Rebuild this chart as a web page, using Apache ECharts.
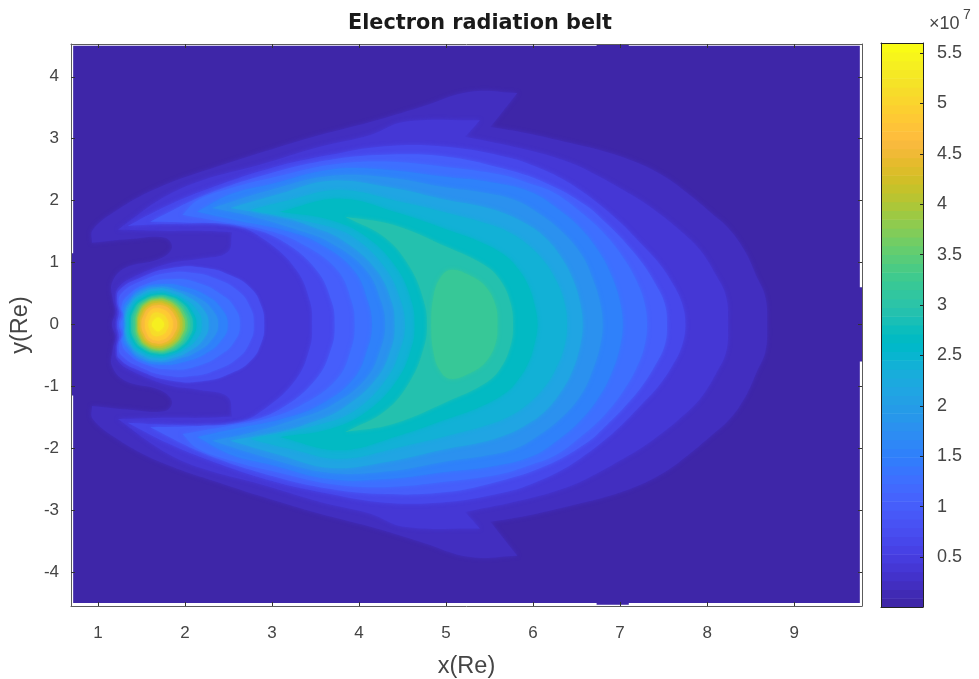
<!DOCTYPE html>
<html><head><meta charset="utf-8">
<style>html,body{margin:0;padding:0;background:#fff}#c{width:979px;height:679px}</style>
<script src="https://cdn.jsdelivr.net/npm/echarts@6/dist/echarts.min.js"></script>
</head><body><div id="c"></div>
<script>
// Axis ticks
const xTicks = [1,2,3,4,5,6,7,8,9];
const yTicks = [-4,-3,-2,-1,0,1,2,3,4];
const cbarTicks = [0.5,1,1.5,2,2.5,3,3.5,4,4.5,5,5.5];
const xRange = [0.69, 9.78];
const yRange = [-4.55, 4.53];
const cbarRange = [0.004, 5.6];

// MATLAB parula colormap
const parula = [[.2422,.1504,.6603],[.2504,.165,.7076],[.2578,.1818,.7511],[.2647,.1978,.7952],[.2706,.2147,.8364],[.2751,.2342,.871],[.2783,.2559,.8991],[.2803,.2782,.9221],[.2813,.3006,.9414],[.281,.3228,.9579],[.2795,.3447,.9717],[.276,.3667,.9829],[.2699,.3892,.9906],[.2602,.4123,.9952],[.244,.4358,.9988],[.2206,.4603,.9973],[.1963,.4847,.9892],[.1834,.5074,.9798],[.1786,.5289,.9682],[.1764,.5499,.952],[.1687,.5703,.9359],[.154,.5902,.9218],[.146,.6091,.9079],[.138,.6276,.8973],[.1248,.6459,.8883],[.1113,.6635,.8763],[.0952,.6798,.8598],[.0689,.6948,.8394],[.0297,.7082,.8163],[.0036,.7203,.7917],[.0067,.7312,.766],[.0433,.7411,.7394],[.0964,.75,.712],[.1408,.7584,.6842],[.1717,.767,.6554],[.1938,.7758,.6251],[.2161,.7843,.5923],[.247,.7918,.5567],[.2906,.7973,.5188],[.3406,.8008,.4789],[.3909,.8029,.4354],[.4456,.8024,.3909],[.5044,.7993,.348],[.5616,.7942,.3045],[.6174,.7876,.2612],[.672,.7793,.2227],[.7242,.7698,.191],[.7738,.7598,.1646],[.8203,.7498,.1535],[.8634,.7406,.1596],[.9035,.733,.1774],[.9393,.7288,.21],[.9728,.7298,.2394],[.9956,.7434,.2371],[.997,.7659,.2199],[.9952,.7893,.2028],[.9892,.8136,.1885],[.9786,.8386,.1766],[.9676,.8639,.1643],[.961,.889,.1537],[.9597,.9135,.1423],[.9628,.9373,.1265],[.9691,.9606,.1064],[.9769,.9839,.0805]];

// Contour bands: value (x10^7) and upper half outline [x(Re), y(Re)].
const baseValue = 0.01;
const baseOutline = [[9.78,0],[9.78,.6],[9.755,.6],[9.755,4.5],[7.1,4.5],[7.1,4.53],[6.73,4.53],[6.73,4.5],[.715,4.5],[.715,1.15],[.69,1.15],[.69,0]];

const beltValues = [0.14,0.36,0.66,0.98,1.26,1.54,1.82,2.10,2.38,2.66,2.94,3.22];
const belt1 = [[8.69,0],[8.67,.44],[8.57,.77],[8.44,1.17],[8.26,1.53],[8.03,1.82],[7.8,2.09],[7.52,2.38],[7.2,2.61],[6.83,2.79],[6.43,2.93],[5.93,3.09],[5.51,3.19],[5.51,3.19],[5.82,3.74],[5.82,3.74],[5.28,3.76],[4.7,3.51],[4.13,3.27],[3.55,3.06],[3.09,2.87],[2.46,2.59],[1.71,2.22],[1.22,1.85],[.94,1.53],[.93,1.32],[.93,1.32],[1.37,1.38],[1.77,1.4],[1.85,1.24],[1.71,1.06],[1.31,.91],[1.16,.67],[1.17,.4],[1.2,.2],[1.16,0]];
const belt2 = [[8.24,0],[8.22,.44],[8.1,.8],[7.92,1.2],[7.72,1.48],[7.48,1.76],[7.23,2.01],[7,2.2],[6.77,2.38],[6.43,2.61],[5.93,2.82],[5.22,3.03],[5.22,3.03],[5.39,3.3],[5.39,3.3],[4.51,3.27],[4.13,3.06],[3.55,2.87],[2.86,2.58],[2.2,2.33],[1.74,2.04],[1.23,1.53],[1.23,1.53],[1.8,1.51],[2.23,1.51],[2.54,1.49],[2.54,1.49],[2.49,1.17],[2.17,1.06],[1.8,.98],[1.38,.75],[1.23,.59],[1.2,.4],[1.22,.2],[1.2,0]];
const belt3 = [[7.75,0],[7.71,.35],[7.6,.67],[7.44,1],[7.23,1.32],[7,1.65],[6.77,1.93],[6.54,2.17],[6.31,2.37],[6.03,2.55],[5.74,2.69],[5.01,2.87],[4.3,2.88],[3.67,2.74],[3,2.53],[2.23,2.17],[1.77,1.9],[1.34,1.59],[1.34,1.59],[1.8,1.62],[2.54,1.61],[2.91,1.37],[3.28,.88],[3.44,.35],[3.46,0]];
const belt4 = [[7.54,0],[7.51,.35],[7.4,.67],[7.25,1],[7.06,1.32],[6.85,1.62],[6.6,1.93],[6.14,2.29],[5.62,2.53],[5.01,2.71],[4.3,2.74],[3.67,2.66],[3,2.45],[2.23,2.09],[1.6,1.66],[1.6,1.66],[2.17,1.64],[2.63,1.59],[3.09,1.37],[3.51,.88],[3.69,.35],[3.72,0]];
const belt5 = [[7.31,0],[7.28,.35],[7.2,.67],[7.05,1.05],[6.83,1.45],[6.56,1.8],[6.25,2.12],[5.95,2.28],[5.62,2.42],[5.01,2.54],[4.3,2.63],[3.67,2.58],[3,2.37],[2.57,2.22],[2.15,2.01],[1.97,1.77],[1.97,1.77],[2.49,1.64],[2.89,1.54],[3.32,1.32],[3.75,.88],[3.92,.35],[3.95,0]];
const belt6 = [[7.03,0],[7,.35],[6.92,.72],[6.78,1.12],[6.56,1.53],[6.3,1.85],[5.97,2.14],[5.5,2.3],[5.01,2.38],[4.3,2.5],[3.67,2.5],[3,2.27],[2.54,2.11],[2.14,1.82],[2.14,1.82],[2.63,1.67],[3.09,1.54],[3.53,1.32],[3.94,.88],[4.11,.35],[4.15,0]];
const belt7 = [[6.8,0],[6.77,.35],[6.69,.72],[6.56,1.12],[6.34,1.49],[6.08,1.78],[5.79,2.01],[5.42,2.13],[5.01,2.21],[4.36,2.37],[3.67,2.4],[3.03,2.19],[2.31,1.88],[2.31,1.88],[2.75,1.75],[3.26,1.54],[3.67,1.32],[4.08,.88],[4.26,.35],[4.3,0]];
const belt8 = [[6.57,0],[6.54,.35],[6.46,.72],[6.33,1.07],[6.14,1.4],[5.9,1.64],[5.62,1.82],[5.33,1.93],[5.01,2.01],[4.36,2.21],[3.67,2.32],[3.09,2.11],[2.52,1.88],[2.52,1.88],[3.15,1.72],[3.44,1.59],[3.8,1.37],[4.2,.88],[4.38,.35],[4.41,0]];
const belt9 = [[6.39,0],[6.36,.35],[6.26,.72],[6.12,1.03],[5.91,1.32],[5.72,1.49],[5.51,1.61],[5.01,1.8],[4.47,1.98],[3.78,2.17],[3.21,2.01],[2.75,1.85],[2.75,1.85],[3.55,1.62],[3.95,1.4],[4.32,.88],[4.49,.35],[4.53,0]];
const belt10 = [[6.05,0],[6.01,.35],[5.94,.64],[5.83,.89],[5.68,1.11],[5.38,1.34],[5.01,1.53],[4.47,1.79],[3.78,2.03],[3.09,1.82],[3.09,1.82],[3.67,1.69],[4.1,1.4],[4.45,.88],[4.61,.35],[4.64,0]];
const belt11 = [[5.77,0],[5.74,.35],[5.62,.72],[5.44,.96],[5.01,1.25],[4.39,1.61],[3.84,1.74],[3.84,1.74],[4.3,1.4],[4.59,.91],[4.75,.35],[4.78,0]];
const belt12 = [[5.59,0],[5.57,.3],[5.46,.6],[5.3,.77],[5.05,.88],[4.92,.72],[4.85,.4],[4.83,0]];

const spotValues = [0.70,0.98,1.26,1.54,1.82,2.10,2.38,2.66,2.94,3.22,3.50,3.78,4.06,4.34,4.62,4.90,5.18,5.46];
const spot3 = [[2.91,0],[2.87,.32],[2.75,.59],[2.54,.78],[2.23,.91],[1.85,.91],[1.48,.75],[1.25,.56],[1.22,.4],[1.24,.2],[1.22,0]];
const spot4 = [[2.79,0],[2.74,.3],[2.6,.55],[2.35,.74],[2.1,.83],[1.8,.83],[1.5,.7],[1.27,.5],[1.24,.33],[1.27,.18],[1.24,0]];
const spot5 = [[2.63,0],[2.57,.27],[2.42,.48],[2.15,.67],[1.85,.73],[1.55,.65],[1.33,.45],[1.27,.28],[1.29,.15],[1.26,0]];
const spot6 = [[2.49,0],[2.42,.25],[2.25,.46],[2,.6],[1.75,.65],[1.5,.58],[1.35,.4],[1.29,.25],[1.31,.12],[1.29,0]];
const spot7 = [[2.38,0],[2.31,.24],[2.15,.43],[1.92,.56],[1.7,.61],[1.48,.53],[1.36,.36],[1.31,.2],[1.31,0]];
const spot8 = [[2.27,0],[2.21,.24],[2.05,.43],[1.87,.54],[1.69,.58],[1.5,.5],[1.37,.33],[1.32,.15],[1.32,0]];
const spot9 = [[2.19,0],[2.14,.22],[2,.4],[1.85,.5],[1.69,.54],[1.5,.46],[1.38,.3],[1.33,0]];
const spot10 = [[2.13,0],[2.08,.21],[1.97,.38],[1.83,.47],[1.69,.5],[1.52,.43],[1.4,.27],[1.36,0]];
const spot11 = [[2.09,0],[2.05,.2],[1.95,.36],[1.82,.45],[1.69,.47],[1.53,.4],[1.42,.25],[1.38,0]];
const spot12 = [[2.06,0],[2.02,.19],[1.93,.35],[1.81,.43],[1.69,.45],[1.54,.38],[1.44,.24],[1.4,0]];
const spot13 = [[2.03,0],[1.99,.19],[1.91,.33],[1.8,.41],[1.69,.43],[1.55,.37],[1.46,.23],[1.43,0]];
const spot14 = [[2,0],[1.96,.18],[1.89,.31],[1.79,.39],[1.69,.41],[1.56,.35],[1.48,.22],[1.45,0]];
const spot15 = [[1.97,0],[1.94,.17],[1.87,.29],[1.78,.36],[1.69,.38],[1.57,.33],[1.49,.2],[1.46,0]];
const spot16 = [[1.94,0],[1.91,.16],[1.85,.27],[1.77,.33],[1.69,.35],[1.58,.3],[1.51,.18],[1.48,0]];
const spot17 = [[1.91,0],[1.88,.14],[1.82,.25],[1.75,.3],[1.68,.31],[1.59,.27],[1.53,.16],[1.5,0]];
const spot18 = [[1.86,0],[1.84,.12],[1.79,.21],[1.73,.25],[1.68,.26],[1.61,.23],[1.56,.13],[1.54,0]];
const spot19 = [[1.81,0],[1.79,.09],[1.75,.16],[1.71,.18],[1.68,.19],[1.63,.17],[1.6,.1],[1.58,0]];
const spot20 = [[1.76,0],[1.74,.06],[1.72,.09],[1.69,.11],[1.66,.09],[1.64,.06],[1.62,0]];

const belts = [belt1,belt2,belt3,belt4,belt5,belt6,belt7,belt8,belt9,belt10,belt11,belt12];
const spots = [spot3,spot4,spot5,spot6,spot7,spot8,spot9,spot10,spot11,spot12,spot13,spot14,spot15,spot16,spot17,spot18,spot19,spot20];

function colorOf(v){
  const t = Math.max(0, Math.min(1, (v - cbarRange[0]) / (cbarRange[1] - cbarRange[0])));
  const c = parula[Math.min(63, Math.round(t * 63))];
  return 'rgb(' + c.map(a => Math.round(a * 255)).join(',') + ')';
}
// The plot is mirror-symmetric about y = 0: close each half outline with its mirror.
function closed(half){
  const out = half.slice();
  for (let i = half.length - 1; i >= 0; i--) if (half[i][1] !== 0) out.push([half[i][0], -half[i][1]]);
  return out;
}
const regions = [{v: baseValue, o: closed(baseOutline), s: 0, b: 0}];
belts.forEach((o,i) => regions.push({v: beltValues[i], o: closed(o), s: 0.4, b: 4}));
spots.forEach((o,i) => regions.push({v: spotValues[i], o: closed(o), s: 0.5, b: 3}));

const tickLab = {color:'#454545', fontFamily:'Liberation Sans', fontSize:17};
const lineC = '#5c5c5c';
function xA(grid, pos, extra){
  return Object.assign({type:'value', gridIndex:grid, position:pos, z:10, splitLine:{show:false},
    axisLine:{show:true, onZero:false, lineStyle:{color:lineC, width:1}}}, extra);
}
const mainX = {min:xRange[0], max:xRange[1]};
const mainY = {min:yRange[0], max:yRange[1]};
const tickMain = (vals) => ({show:true, inside:true, length:4, customValues:vals, lineStyle:{color:'#333'}});
const noTick = {show:false}, noLab = {show:false};
const cbX = {min:0, max:1, axisTick:noTick, axisLabel:noLab};
const cbY = {min:cbarRange[0], max:cbarRange[1]};

const option = {
  animation:false, backgroundColor:'#fff',
  title:{text:'Electron radiation belt', left:475, top:8, textAlign:'center',
    textStyle:{fontFamily:'DejaVu Sans', fontWeight:'bold', fontSize:20.8, color:'#1a1a1a'}},
  grid:[{left:71, top:44, width:791, height:562, outerBoundsMode:'none'},{left:881, top:43, width:42, height:564, outerBoundsMode:'none'}],
  xAxis:[
    xA(0,'bottom',Object.assign({}, mainX, {name:'x(Re)', nameLocation:'middle', nameGap:49, nameTextStyle:{fontFamily:'Liberation Sans', fontSize:23.5, color:'#454545'},
      axisTick:tickMain(xTicks), axisLabel:Object.assign({customValues:xTicks, margin:19}, tickLab)})),
    xA(0,'top',Object.assign({}, mainX, {axisTick:tickMain(xTicks), axisLabel:noLab})),
    xA(1,'bottom',Object.assign({}, cbX, {axisLine:{show:true,onZero:false,lineStyle:{color:'#222'}}})),
    xA(1,'top',Object.assign({}, cbX, {axisLine:{show:true,onZero:false,lineStyle:{color:'#222'}}}))
  ],
  yAxis:[
    xA(0,'left',Object.assign({}, mainY, {name:'y(Re)', nameLocation:'middle', nameGap:38, nameRotate:90, nameTextStyle:{fontFamily:'Liberation Sans', fontSize:23.5, color:'#454545'},
      axisTick:tickMain(yTicks), axisLabel:Object.assign({customValues:yTicks, margin:12, padding:[8,0,0,0]}, tickLab)})),
    xA(0,'right',Object.assign({}, mainY, {axisTick:tickMain(yTicks), axisLabel:noLab})),
    xA(1,'right',Object.assign({}, cbY, {axisLine:{show:true,onZero:false,lineStyle:{color:'#222'}},
      axisTick:{show:true, inside:true, length:3, customValues:cbarTicks, lineStyle:{color:'#222'}},
      axisLabel:Object.assign({customValues:cbarTicks, margin:14, padding:[3,0,0,0]}, tickLab, {fontSize:18})})),
    xA(1,'left',Object.assign({}, cbY, {axisLine:{show:true,onZero:false,lineStyle:{color:'#222'}}, axisTick:noTick, axisLabel:noLab}))
  ],
  series:[
    {type:'custom', xAxisIndex:0, yAxisIndex:0, silent:true, clip:false, z:2,
     data:regions.map((r,i)=>[i]),
     renderItem:function(p, api){
       const r = regions[p.dataIndex], f = colorOf(r.v);
       return {type:'polygon', shape:{points:r.o.map(q=>api.coord(q)), smooth:r.s},
         style:{fill:f, stroke:null, shadowBlur:r.b, shadowColor:f}};
     }},
    {type:'custom', xAxisIndex:2, yAxisIndex:2, silent:true, z:2,
     data:parula.map((c,i)=>[i]),
     renderItem:function(p, api){
       const i = p.dataIndex, h = (cbarRange[1]-cbarRange[0])/64;
       const a = api.coord([0, cbarRange[0]+i*h]), b = api.coord([1, cbarRange[0]+(i+1)*h]);
       const c = parula[i];
       return {type:'rect', shape:{x:a[0], y:b[1], width:b[0]-a[0], height:a[1]-b[1]+0.6},
         style:{fill:'rgb('+c.map(q=>Math.round(q*255)).join(',')+')'}};
     }}
  ],
  graphic:[
    {type:'text', left:929, top:15, style:{text:'×10', fontFamily:'Liberation Sans', fontSize:18, fill:'#454545'}},
    {type:'text', left:963, top:8, style:{text:'7', fontFamily:'Liberation Sans', fontSize:14, fill:'#454545'}}
  ]
};
echarts.init(document.getElementById('c'), null, {renderer:'canvas'}).setOption(option);
</script></body></html>
